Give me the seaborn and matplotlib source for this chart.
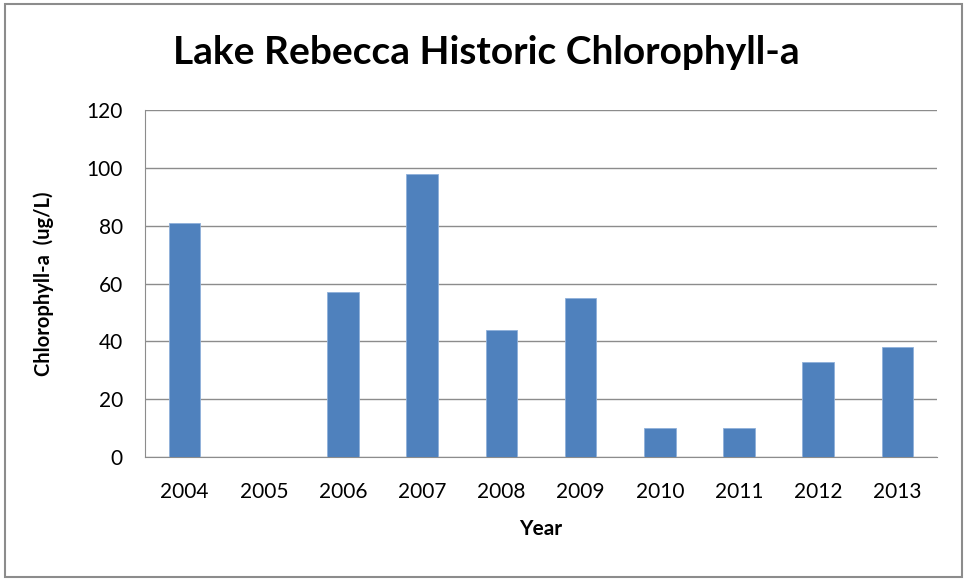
import matplotlib
matplotlib.use("Agg")
import matplotlib.pyplot as plt
import seaborn as sns
from pandas import DataFrame

years = ["2004", "2005", "2006", "2007", "2008", "2009", "2010", "2011", "2012", "2013"]
chl = [81, 0, 57, 98, 44, 55, 10, 10, 33, 38]
yticks = [0, 20, 40, 60, 80, 100, 120]

sns.set_style("white")
plt.rcParams['font.family'] = ['Lato', 'DejaVu Sans']
plt.rcParams['text.color'] = 'black'
plt.rcParams['xtick.labelcolor'] = 'black'
plt.rcParams['ytick.labelcolor'] = 'black'
plt.rcParams['axes.labelcolor'] = 'black'

df = DataFrame({"year": years, "chl": chl})

fig = plt.figure(figsize=(9.66, 5.81), dpi=100)
ax = fig.add_axes([145 / 966, 1 - 457 / 581, (937 - 145) / 966, (457 - 110) / 581])

sns.barplot(data=df, x="year", y="chl", color="#4F81BD", saturation=1, width=0.4,
            edgecolor="#8FB0DA", linewidth=0.6, ax=ax, zorder=3)

ax.set_ylim(0, 120)
ax.set_xlim(-0.5, len(years) - 0.5)
ax.set_yticks(yticks)
ax.yaxis.grid(True, color="#8C8C8C", linewidth=1.0, zorder=0)
ax.set_axisbelow(True)

for s in ["top", "right"]:
    ax.spines[s].set_visible(False)
ax.spines["left"].set_color("#8C8C8C")
ax.spines["bottom"].set_color("#8C8C8C")

# category boundary ticks on x axis
ax.set_xticks([i - 0.5 for i in range(len(years) + 1)], minor=True)
ax.tick_params(axis="x", which="minor", length=8, width=1, color="#8C8C8C", direction="out")
ax.tick_params(axis="x", which="major", length=0, labelsize=15, pad=18)
ax.tick_params(axis="y", length=8, width=1, color="#8C8C8C", labelsize=15, pad=8)
ax.set_xticks(range(len(years)))
ax.set_xticklabels(years)

ax.set_xlabel("Year", fontsize=15, fontweight="bold", labelpad=12)
ax.set_ylabel("Chlorophyll-a  (ug/L)", fontsize=14.5, fontweight="bold", labelpad=23)
fig.text(0.5 * (175 + 797) / 966, 1 - 53 / 581, "Lake Rebecca Historic Chlorophyll-a",
         ha="center", va="center", fontsize=28, fontweight="bold")

# outer chart border
fig.patches.append(plt.Rectangle((5 / 966, 4 / 581), 957 / 966, 573 / 581, transform=fig.transFigure,
                                 fill=False, edgecolor="#8C8C8C", linewidth=1.5))

fig.savefig("out.png", dpi=100, facecolor="white")
